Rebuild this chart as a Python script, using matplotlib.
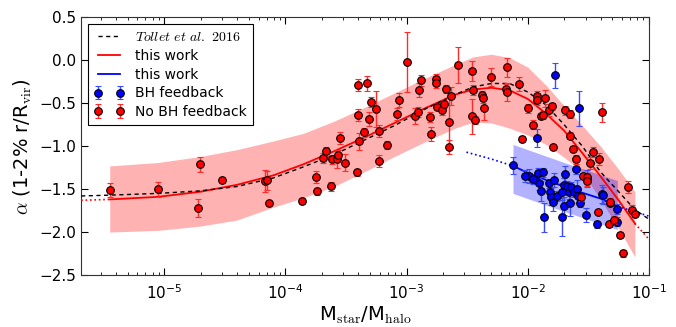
import numpy as np
import matplotlib
matplotlib.use("Agg")
import matplotlib.pyplot as plt
from matplotlib.lines import Line2D

plt.rcParams['mathtext.fontset'] = 'cm'
plt.rcParams['font.family'] = ['DejaVu Sans']

# ---- data (x given as log10(Mstar/Mhalo)) ----
# simulations without BH feedback: log x, alpha, error
nobh_logx = [-5.450, -5.054, -4.705, -4.523, -4.724, -4.171, -4.149, -4.135,
             -3.861, -3.750, -3.742, -3.626, -3.687, -3.662, -3.618, -3.572, -3.564, -3.552,
             -3.506, -3.407, -3.401, -3.330, -3.398, -3.395, -3.351, -3.307, -3.291, -3.255,
             -3.230, -3.228, -3.165, -3.080, -3.061, -2.995, -2.929, -2.906, -2.895, -2.883,
             -2.804, -2.798, -2.757, -2.754, -2.751, -2.705, -2.693, -2.674, -2.633, -2.650,
             -2.650, -2.578, -2.463, -2.452, -2.461, -2.434,
             -2.306, -2.381, -2.370, -2.364, -2.183, -2.174, -2.169, -2.070, -2.045, -2.001,
             -1.955, -1.927, -1.927, -1.856, -1.894, -1.873, -1.828, -1.801, -1.790, -1.696,
             -1.652, -1.652, -1.625, -1.603, -1.543, -1.510, -1.515, -1.485, -1.460, -1.416,
             -1.391, -1.559, -1.424, -1.325, -1.328, -1.292, -1.242, -1.212, -1.176, -1.143,
             -1.118]
nobh_alpha = [-1.507, -1.502, -1.211, -1.394, -1.720, -1.406, -1.398, -1.665,
              -1.639, -1.363, -1.526, -1.467, -1.135, -1.060, -1.153, -1.153, -1.103, -0.909,
              -1.193, -1.304, -0.285, -0.268, -0.641, -0.944, -0.839, -0.680, -0.489, -0.564,
              -1.169, -0.820, -0.987, -0.629, -0.466, -0.017, -0.649, -0.599, -0.346, -0.234,
              -0.661, -0.855, -0.215, -0.268, -0.541, -0.579, -0.509, -0.335, -0.416, -0.723,
              -1.010, -0.055, -0.125, -0.350, -0.653, -0.696,
              -0.195, -0.405, -0.443, -0.556, -0.338, -0.082, -0.370, -0.277, -0.917, -0.560,
              -0.750, -0.416, -0.463, -0.443, -0.649, -0.637, -0.579, -0.536, -1.006, -0.583,
              -0.626, -0.878, -1.033, -1.153, -1.348, -1.359, -1.409, -1.196, -1.065, -1.153,
              -0.606, -1.595, -1.763, -1.647, -1.906, -1.860, -2.034, -2.247, -1.476, -1.740,
              -1.790]
nobh_err = [0.08, 0.09, 0.09, 0.04, 0.11, 0.13, 0.11, 0.03,
            0.03, 0.07, 0.04, 0.05, 0.06, 0.05, 0.05, 0.10, 0.06, 0.07,
            0.10, 0.04, 0.07, 0.09, 0.07, 0.10, 0.05, 0.08, 0.06, 0.21,
            0.07, 0.07, 0.05, 0.07, 0.08, 0.35, 0.09, 0.06, 0.08, 0.06,
            0.06, 0.08, 0.05, 0.05, 0.04, 0.06, 0.05, 0.05, 0.10, 0.28,
            0.08, 0.21, 0.12, 0.06, 0.20, 0.05,
            0.10, 0.05, 0.05, 0.14, 0.06, 0.11, 0.10, 0.08, 0.04, 0.05,
            0.05, 0.06, 0.06, 0.10, 0.04, 0.05, 0.07, 0.04, 0.03, 0.05,
            0.05, 0.04, 0.04, 0.05, 0.04, 0.05, 0.05, 0.07, 0.06, 0.07,
            0.11, 0.04, 0.03, 0.04, 0.04, 0.05, 0.04, 0.04, 0.07, 0.05,
            0.04]

# simulations with BH feedback
bh_logx = [-1.773, -1.578, -1.924, -2.122, -1.987, -1.940, -1.918, -1.874, -1.905, -1.894,
           -1.823, -1.815, -1.809, -1.784, -1.790, -1.757, -1.864, -1.720, -1.720, -1.703,
           -1.696, -1.674, -1.699, -1.660, -1.655, -1.641, -1.621, -1.597, -1.603, -1.586,
           -1.569, -1.523, -1.515, -1.432, -1.391, -1.383, -1.320, -1.264, -1.267, -2.023,
           -1.960]
bh_alpha = [-0.172, -0.560, -0.905, -1.223, -1.351, -1.379, -1.313, -1.305, -1.425, -1.522,
            -1.433, -1.530, -1.588, -1.398, -1.654, -1.580, -1.828, -1.828, -1.530, -1.456,
            -1.328, -1.461, -1.697, -1.530, -1.658, -1.472, -1.534, -1.495, -1.266, -1.577,
            -1.658, -1.798, -1.374, -1.910, -1.557, -1.572, -1.662, -1.880, -1.728, -1.344,
            -1.386]
bh_err = [0.145, 0.20, 0.10, 0.10, 0.08, 0.06, 0.06, 0.05, 0.08, 0.12,
          0.05, 0.06, 0.10, 0.08, 0.10, 0.06, 0.17, 0.22, 0.10, 0.08,
          0.10, 0.06, 0.10, 0.08, 0.15, 0.06, 0.06, 0.10, 0.06, 0.08,
          0.05, 0.08, 0.10, 0.04, 0.10, 0.10, 0.04, 0.05, 0.06, 0.07,
          0.06]

# fit curves
fit_logx = [-5.686, -5.45, -5.05, -4.70, -4.40, -4.10, -3.85, -3.60, -3.35, -3.10, -2.85,
            -2.60, -2.45, -2.30, -2.15, -2.00, -1.85, -1.70, -1.55, -1.40, -1.25, -1.116, -0.99]
red_fit = [-1.63, -1.62, -1.59, -1.53, -1.45, -1.34, -1.21, -1.06, -0.90, -0.73, -0.56,
           -0.40, -0.34, -0.32, -0.35, -0.45, -0.62, -0.82, -1.08, -1.35, -1.63, -1.90, -2.10]
tollet = [-1.58, -1.57, -1.55, -1.52, -1.47, -1.37, -1.24, -1.10, -0.93, -0.76, -0.57,
          -0.40, -0.31, -0.27, -0.27, -0.37, -0.52, -0.75, -1.00, -1.30, -1.53, -1.74, -1.86]
red_upper = [-1.23, -1.19, -1.12, -1.04, -0.94, -0.85, -0.71, -0.55, -0.38, -0.21,
             -0.05, 0.04, 0.07, 0.03, -0.08, -0.29, -0.53, -0.76, -1.00, -1.27, -1.53]
red_lower = [-2.00, -1.98, -1.93, -1.86, -1.71, -1.60, -1.47, -1.30, -1.12, -0.95,
             -0.79, -0.72, -0.73, -0.79, -0.87, -0.98, -1.13, -1.30, -1.62, -1.96, -2.29]

blue_logx = [-2.506, -2.30, -2.122, -2.00, -1.80, -1.60, -1.40, -1.261, -1.10, -0.99]
blue_fit = [-1.07, -1.15, -1.23, -1.31, -1.42, -1.52, -1.61, -1.70, -1.77, -1.82]
blue_band_logx = [-2.122, -1.70, -1.261]
blue_upper = [-0.98, -1.19, -1.40]
blue_lower = [-1.55, -1.76, -1.97]

fig = plt.figure(figsize=(6.76, 3.27), dpi=100)
ax = fig.add_axes([0.120, 0.159, 0.840, 0.788])

fx = 10 ** np.array(fit_logx)
red_fit = np.array(red_fit)
bx = 10 ** np.array(blue_logx)
blue_fit = np.array(blue_fit)

# shaded scatter bands
ax.fill_between(fx[1:-1], red_lower, red_upper, color='red', alpha=0.3, lw=0, zorder=1)
ax.fill_between(10 ** np.array(blue_band_logx), blue_lower, blue_upper,
                color='blue', alpha=0.3, lw=0, zorder=1)

# fits: solid inside data range, dotted outside
ax.plot(fx[1:-1], red_fit[1:-1], color='red', lw=1.3, zorder=3)
ax.plot(fx[:2], red_fit[:2], color='red', lw=1.2, ls=':', zorder=3)
ax.plot(fx[-2:], red_fit[-2:], color='red', lw=1.2, ls=':', zorder=3)
ax.plot(bx[2:8], blue_fit[2:8], color='blue', lw=1.3, zorder=3)
ax.plot(bx[:3], blue_fit[:3], color='blue', lw=1.2, ls=':', zorder=3)
ax.plot(bx[7:], blue_fit[7:], color='blue', lw=1.2, ls=':', zorder=3)
ax.plot(fx, tollet, color='k', lw=1.0, ls=(0, (3, 2.5)), zorder=3)

eb_bh = ax.errorbar(10 ** np.array(bh_logx), bh_alpha, yerr=bh_err, fmt='o', ms=5.5,
                    mfc='blue', mec='k', mew=0.8, ecolor='#3a4cff', elinewidth=1,
                    capsize=2.5, capthick=1, zorder=4)
eb_nobh = ax.errorbar(10 ** np.array(nobh_logx), nobh_alpha, yerr=nobh_err, fmt='o', ms=5.5,
                      mfc='red', mec='k', mew=0.8, ecolor='#ff2a2a', elinewidth=1,
                      capsize=2.5, capthick=1, zorder=5)

ax.set_xscale('log')
ax.set_xlim(10 ** -5.686, 0.1)
ax.set_ylim(-2.5, 0.5)
ax.set_yticks(np.arange(-2.5, 0.51, 0.5))
ax.tick_params(which='both', direction='in', top=True, right=True, labelsize=11)
ax.tick_params(which='major', length=5)
ax.tick_params(which='minor', length=2.5)
ax.tick_params(axis='x', pad=6)
for sp in ax.spines.values():
    sp.set_color('#333333')

ax.set_xlabel(r'M$_{\rm star}$/M$_{\rm halo}$', fontsize=14, labelpad=2)
ax.set_ylabel(r'$\alpha$ (1-2% r/R$_{\rm vir}$)', fontsize=14, labelpad=4)

handles = [Line2D([], [], color='k', lw=1.0, ls=(0, (3, 2.5))),
           Line2D([], [], color='red', lw=1.3),
           Line2D([], [], color='blue', lw=1.3),
           eb_bh, eb_nobh]
labels = [r'$Tollet\ et\ al.$ $\rm 2016$', 'this work', 'this work',
          'BH feedback', 'No BH feedback']
leg = ax.legend(handles, labels, loc='upper left', fontsize=10, numpoints=2,
                fancybox=False, framealpha=1, edgecolor='k', handlelength=2.2,
                borderpad=0.4, labelspacing=0.35)
leg.get_frame().set_linewidth(0.8)

fig.savefig('out.png', dpi=100)
